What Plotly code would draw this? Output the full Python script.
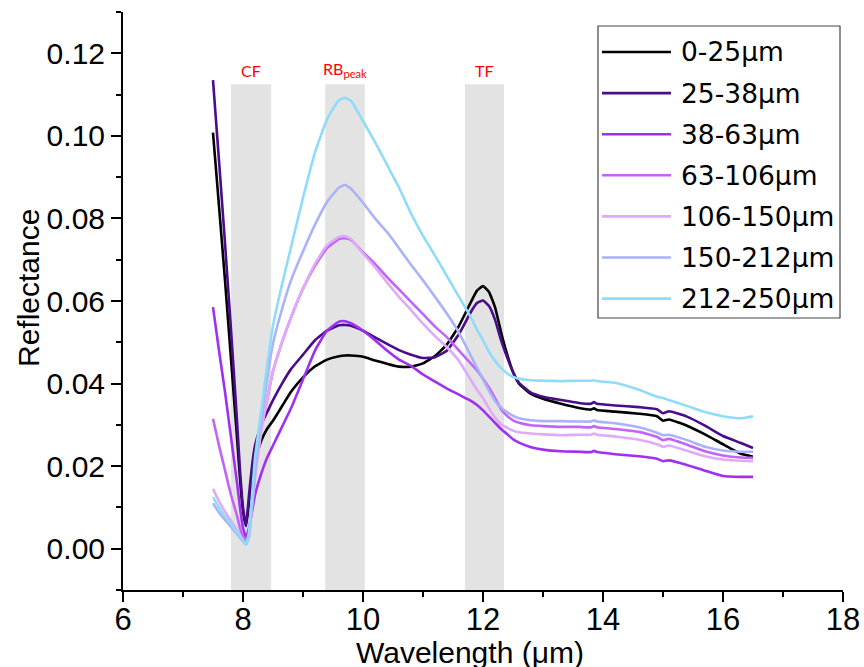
import plotly.graph_objects as go

# Wavelength grid (µm) shared by all spectra
wavelength_um = [7.5, 7.6, 7.7, 7.8, 7.9, 7.95, 8.0, 8.05, 8.1, 8.15,
                 8.2, 8.3, 8.4, 8.5, 8.65, 8.8, 9.0, 9.2, 9.4, 9.6,
                 9.7, 9.8, 10.0, 10.2, 10.4, 10.6, 10.8, 11.0, 11.2, 11.4,
                 11.6, 11.8, 11.9, 12.0, 12.1, 12.2, 12.3, 12.4, 12.5, 12.6,
                 12.8, 13.0, 13.3, 13.6, 13.8, 13.85, 13.9, 14.2, 14.6, 14.9,
                 15.0, 15.1, 15.4, 15.7, 16.0, 16.3, 16.5]

# Reflectance for each grain-size fraction
r_0_25 = [0.1008, 0.083, 0.065, 0.046, 0.027, 0.017, 0.009, 0.0055, 0.011, 0.017,
          0.021, 0.026, 0.029, 0.031, 0.0345, 0.038, 0.0415, 0.0442, 0.0458, 0.0466,
          0.0468, 0.0468, 0.0465, 0.0456, 0.0448, 0.0441, 0.0441, 0.0449, 0.0467, 0.0495,
          0.054, 0.0598, 0.0625, 0.0636, 0.0622, 0.0585, 0.0525, 0.0472, 0.0428, 0.0400,
          0.0375, 0.0363, 0.0351, 0.0341, 0.0337, 0.0340, 0.0336, 0.0332, 0.0327, 0.0321,
          0.0310, 0.0313, 0.0298, 0.0277, 0.0253, 0.0230, 0.0223]

r_25_38 = [0.1135, 0.094, 0.074, 0.053, 0.031, 0.019, 0.0100, 0.0055, 0.013, 0.020,
           0.025, 0.030, 0.033, 0.036, 0.040, 0.0435, 0.047, 0.0505, 0.0528, 0.0541,
           0.0542, 0.0540, 0.0528, 0.0512, 0.0496, 0.0481, 0.0470, 0.0462, 0.0464, 0.0480,
           0.0520, 0.0574, 0.0595, 0.0601, 0.0588, 0.0555, 0.0505, 0.0464, 0.0428, 0.0402,
           0.0378, 0.0368, 0.0360, 0.0353, 0.0351, 0.0355, 0.0351, 0.0347, 0.0343, 0.0338,
           0.0328, 0.0333, 0.0320, 0.0298, 0.0273, 0.0256, 0.0244]

r_38_63 = [0.0585, 0.048, 0.038, 0.027, 0.016, 0.010, 0.005, 0.0028, 0.005, 0.009,
           0.013, 0.018, 0.022, 0.025, 0.0295, 0.034, 0.041, 0.048, 0.0528, 0.0550,
           0.0551, 0.0546, 0.0528, 0.0505, 0.0480, 0.0458, 0.0443, 0.0422, 0.0405, 0.0388,
           0.0373, 0.0358, 0.0348, 0.0335, 0.0320, 0.0305, 0.0290, 0.0278, 0.0265, 0.0257,
           0.0246, 0.0240, 0.0236, 0.0235, 0.0234, 0.0237, 0.0234, 0.0229, 0.0224, 0.0218,
           0.0212, 0.0214, 0.0203, 0.0189, 0.0176, 0.0174, 0.0174]

r_63_106 = [0.0315, 0.025, 0.019, 0.013, 0.008, 0.005, 0.003, 0.0017, 0.004, 0.011,
            0.018, 0.029, 0.036, 0.043, 0.050, 0.056, 0.063, 0.0685, 0.0728, 0.0750,
            0.0752, 0.0748, 0.0718, 0.0690, 0.0658, 0.0628, 0.0598, 0.0568, 0.0538, 0.0512,
            0.0480, 0.0448, 0.0432, 0.0412, 0.0390, 0.0365, 0.0338, 0.0322, 0.0311, 0.0305,
            0.0299, 0.0297, 0.0295, 0.0295, 0.0294, 0.0297, 0.0294, 0.0290, 0.0283, 0.0271,
            0.0263, 0.0266, 0.0252, 0.0236, 0.0226, 0.0221, 0.0220]

r_106_150 = [0.0145, 0.0115, 0.009, 0.0068, 0.0045, 0.0033, 0.0022, 0.0012, 0.003, 0.010,
             0.017, 0.028, 0.036, 0.043, 0.050, 0.056, 0.063, 0.069, 0.0735, 0.0755,
             0.0757, 0.0750, 0.0715, 0.0682, 0.0645, 0.0610, 0.0578, 0.0545, 0.0515, 0.0488,
             0.0455, 0.0408, 0.0385, 0.0365, 0.0340, 0.0318, 0.0302, 0.0293, 0.0286, 0.0282,
             0.0279, 0.0277, 0.0275, 0.0276, 0.0276, 0.0279, 0.0276, 0.0272, 0.0264, 0.0253,
             0.0247, 0.0250, 0.0237, 0.0224, 0.0216, 0.0213, 0.0212]

r_150_212 = [0.011, 0.0088, 0.007, 0.0053, 0.0036, 0.0027, 0.0018, 0.001, 0.003, 0.011,
             0.019, 0.031, 0.041, 0.0497, 0.058, 0.065, 0.072, 0.0785, 0.0840, 0.0875,
             0.0881, 0.0872, 0.0838, 0.0800, 0.0767, 0.0728, 0.0688, 0.0650, 0.0610, 0.0569,
             0.0523, 0.0467, 0.0438, 0.0410, 0.0383, 0.0358, 0.0342, 0.0331, 0.0322, 0.0316,
             0.0311, 0.0309, 0.0309, 0.0308, 0.0308, 0.0311, 0.0308, 0.0304, 0.0294, 0.0281,
             0.0275, 0.0276, 0.0263, 0.0247, 0.0238, 0.0235, 0.0235]

r_212_250 = [0.0125, 0.010, 0.0078, 0.006, 0.004, 0.003, 0.002, 0.001, 0.004, 0.013,
             0.022, 0.033, 0.044, 0.054, 0.064, 0.073, 0.085, 0.096, 0.1040, 0.1087,
             0.1092, 0.1085, 0.1036, 0.0985, 0.0930, 0.0875, 0.0812, 0.0758, 0.0710, 0.0660,
             0.0610, 0.0560, 0.0530, 0.0505, 0.0477, 0.0455, 0.0438, 0.0425, 0.0416, 0.0412,
             0.0408, 0.0407, 0.0406, 0.0407, 0.0407, 0.0408, 0.0406, 0.0402, 0.0385, 0.0368,
             0.0365, 0.0360, 0.0346, 0.0331, 0.0321, 0.0316, 0.0321]

size_fractions = ["0-25μm", "25-38μm", "38-63μm", "63-106μm",
                  "106-150μm", "150-212μm", "212-250μm"]
line_colors = ["#000000", "#4b0c8c", "#a030f0", "#c264f5",
               "#e0aaf8", "#aab2fa", "#8fdcf8"]
spectra = [r_0_25, r_25_38, r_38_63, r_63_106, r_106_150, r_150_212, r_212_250]

# Diagnostic spectral features (shaded bands)
band_labels = ["CF", "RB<sub>peak</sub>", "TF"]
band_start = [7.8, 9.37, 11.7]
band_end = [8.47, 10.03, 12.35]
band_top = 0.1125

W, H = 864, 667
ML, MR, MT, MB = 123, 21, 12, 77
PW, PH = W - ML - MR, H - MT - MB


def px_x(px):
    return (px - ML) / PW


def px_y(py):
    return (H - MB - py) / PH


fig = go.Figure()

for name, ys, color in zip(size_fractions, spectra, line_colors):
    fig.add_trace(go.Scatter(
        x=wavelength_um, y=ys, mode="lines", name=name,
        line=dict(color=color, width=2.6, shape="spline", smoothing=0.4),
        showlegend=False,
    ))

for label, x0, x1 in zip(band_labels, band_start, band_end):
    fig.add_shape(type="rect", xref="x", yref="y", x0=x0, x1=x1,
                  y0=-0.01, y1=band_top, fillcolor="#e3e3e3",
                  line_width=0, layer="below")
    fig.add_annotation(x=(x0 + x1) / 2, y=band_top, xref="x", yref="y",
                       text=label, showarrow=False, yanchor="bottom", yshift=2,
                       font=dict(family="Lato", size=16, color="#ff0000"))

# Legend box drawn with shapes and text
box_l, box_r, box_t, box_b = 598, 840, 26, 318
fig.add_shape(type="rect", xref="paper", yref="paper",
              x0=px_x(box_l), x1=px_x(box_r), y0=px_y(box_b), y1=px_y(box_t),
              line=dict(color="#444444", width=1.2), fillcolor="white")
for i, (name, color) in enumerate(zip(size_fractions, line_colors)):
    py = 52 + 41.1 * i
    fig.add_shape(type="line", xref="paper", yref="paper",
                  x0=px_x(602), x1=px_x(671), y0=px_y(py), y1=px_y(py),
                  line=dict(color=color, width=2.6))
    fig.add_annotation(x=px_x(679), y=px_y(py), xref="paper", yref="paper",
                       text=name, showarrow=False, xanchor="left", yanchor="middle",
                       font=dict(family="DejaVu Sans", size=26.5, color="black"))

# Axis titles
fig.add_annotation(x=px_x(470), y=px_y(652), xref="paper", yref="paper",
                   text="Wavelength (μm)", showarrow=False,
                   xanchor="center", yanchor="middle",
                   font=dict(family="Liberation Sans", size=30, color="black"))
fig.add_annotation(x=px_x(28), y=px_y(288), xref="paper", yref="paper",
                   text="Reflectance", showarrow=False, textangle=-90,
                   xanchor="center", yanchor="middle",
                   font=dict(family="Liberation Sans", size=30, color="black"))

axis_common = dict(showline=True, linecolor="black", linewidth=2,
                   ticks="outside", ticklen=10, tickwidth=2, tickcolor="black",
                   showgrid=False, zeroline=False, mirror=False, automargin=False)

fig.update_xaxes(range=[6, 18], tick0=6, dtick=2, ticklabelstandoff=-9,
                 minor=dict(dtick=1, ticks="outside", ticklen=5, tickwidth=2,
                            tickcolor="black", showgrid=False),
                 tickfont=dict(family="Liberation Sans", size=31, color="black"),
                 **axis_common)
fig.update_yaxes(range=[-0.01, 0.13], tick0=0, dtick=0.02, tickformat=".2f",
                 minor=dict(dtick=0.01, ticks="outside", ticklen=5, tickwidth=2,
                            tickcolor="black", showgrid=False),
                 tickfont=dict(family="Liberation Sans", size=30, color="black"),
                 **axis_common)

fig.update_layout(width=W, height=H, margin=dict(l=ML, r=MR, t=MT, b=MB),
                  plot_bgcolor="white", paper_bgcolor="white", showlegend=False)

fig.write_html("out.html")
